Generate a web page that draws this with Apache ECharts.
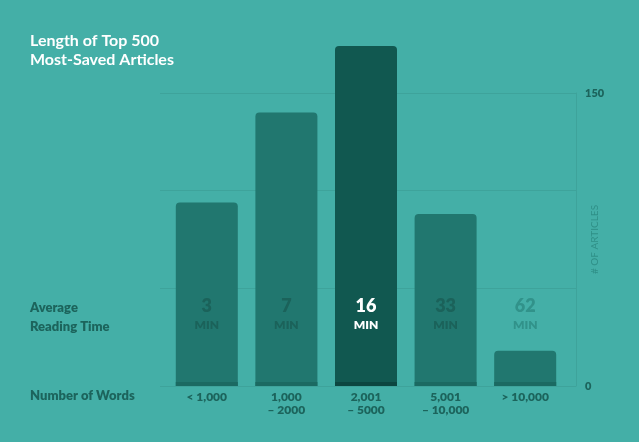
<!DOCTYPE html>
<html>
<head>
<meta charset="utf-8">
<script src="https://cdn.jsdelivr.net/npm/echarts@6/dist/echarts.min.js"></script>
<style>
html,body{margin:0;padding:0;background:#44afa7;}
#c{width:639px;height:442px;}
</style>
</head>
<body>
<div id="c"></div>
<script>
const categories = ['< 1,000', '1,000\n– 2000', '2,001\n– 5000', '5,001\n– 10,000', '> 10,000'];
const articleCounts = [94, 140, 174, 88, 18];
const readingTimes = [3, 7, 16, 33, 62];
const readingUnit = 'MIN';
const yTickLabels = [0, 150];
const highlightIndex = 2;

const FONT = 'Lato, "Open Sans", sans-serif';
const BG = '#44afa7';
const GRIDLINE = '#3ea39b';
const DARK = '#1c645c';
const STRIP = 2;

const chart = echarts.init(document.getElementById('c'), null, {renderer: 'canvas'});

function timeLabel(v, i) {
  let k = 'd';
  if (i === highlightIndex) k = 'w';
  else if (articleCounts[i] < 45) k = 'l';
  return '{' + k + 'n|' + readingTimes[i] + '}\n{' + k + 'm|' + readingUnit + '}';
}

const richTime = {};
[['d', '#1b625a'], ['w', '#ffffff'], ['l', '#31928a']].forEach(([k, c]) => {
  richTime[k + 'n'] = {color: c, fontSize: 18, fontWeight: 800, fontFamily: FONT, lineHeight: 20, align: 'center'};
  richTime[k + 'm'] = {color: c, fontSize: 12, fontWeight: 800, fontFamily: FONT, lineHeight: 18, align: 'center'};
});

const option = {
  backgroundColor: BG,
  animation: false,
  title: [
    {text: 'Length of Top 500\nMost-Saved Articles', left: 30, top: 31, padding: 0,
     textStyle: {color: '#ffffff', fontSize: 16, fontWeight: 'bold', fontFamily: FONT, lineHeight: 19}},
    {text: 'Average\nReading Time', left: 30, top: 298, padding: 0,
     textStyle: {color: DARK, fontSize: 13, fontWeight: 800, fontFamily: FONT, lineHeight: 19}},
    {text: 'Number of Words', left: 30, top: 387, padding: 0,
     textStyle: {color: DARK, fontSize: 13, fontWeight: 800, fontFamily: FONT, lineHeight: 18}}
  ],
  grid: [
    {left: 160, right: 63, top: 93, bottom: 56},
    {left: 167, right: 74, top: 93, bottom: 56},
    {left: 167, right: 74, top: 93, bottom: 152}
  ],
  xAxis: [
    {gridIndex: 0, type: 'category', data: categories, show: false},
    {gridIndex: 1, type: 'category', data: categories,
     axisLine: {show: false}, axisTick: {show: false},
     axisLabel: {margin: 4, color: DARK, fontSize: 12, fontWeight: 800, fontFamily: FONT, lineHeight: 13.5, interval: 0}},
    {gridIndex: 2, type: 'category', data: categories, z: 10,
     axisLine: {show: false}, axisTick: {show: false},
     axisLabel: {margin: 6, interval: 0, formatter: timeLabel, rich: richTime}}
  ],
  yAxis: [
    {gridIndex: 0, type: 'value', position: 'right', min: 0, max: 150, interval: 50,
     axisLine: {show: true, lineStyle: {color: GRIDLINE, width: 1}},
     axisTick: {show: false},
     splitLine: {show: true, lineStyle: {color: GRIDLINE, width: 1}},
     axisLabel: {margin: 9, color: DARK, fontSize: 11, fontWeight: 800, fontFamily: FONT,
       formatter: v => yTickLabels.includes(v) ? String(v) : ''},
     name: '# OF ARTICLES', nameLocation: 'middle', nameRotate: 90, nameGap: 14, nameMoveOverlap: false,
     nameTextStyle: {color: '#2f8f87', fontSize: 10, fontFamily: FONT, fontWeight: 'normal'}},
    {gridIndex: 1, type: 'value', min: 0, max: 150, show: false},
    {gridIndex: 2, type: 'value', min: 0, max: 150, show: false}
  ],
  series: [
    {type: 'bar', xAxisIndex: 1, yAxisIndex: 1, barWidth: 62, clip: false, barGap: '-100%',
     data: articleCounts.map((v, i) => ({value: v, itemStyle: {color: i === highlightIndex ? '#115850' : '#21776f', borderRadius: [4, 4, 0, 0]}}))},
    {type: 'bar', xAxisIndex: 1, yAxisIndex: 1, barWidth: 62, clip: false, barGap: '-100%', silent: true,
     data: articleCounts.map((v, i) => ({value: STRIP, itemStyle: {color: i === highlightIndex ? '#0c4640' : '#1b6a62'}}))}
  ]
};
chart.setOption(option);
</script>
</body>
</html>
